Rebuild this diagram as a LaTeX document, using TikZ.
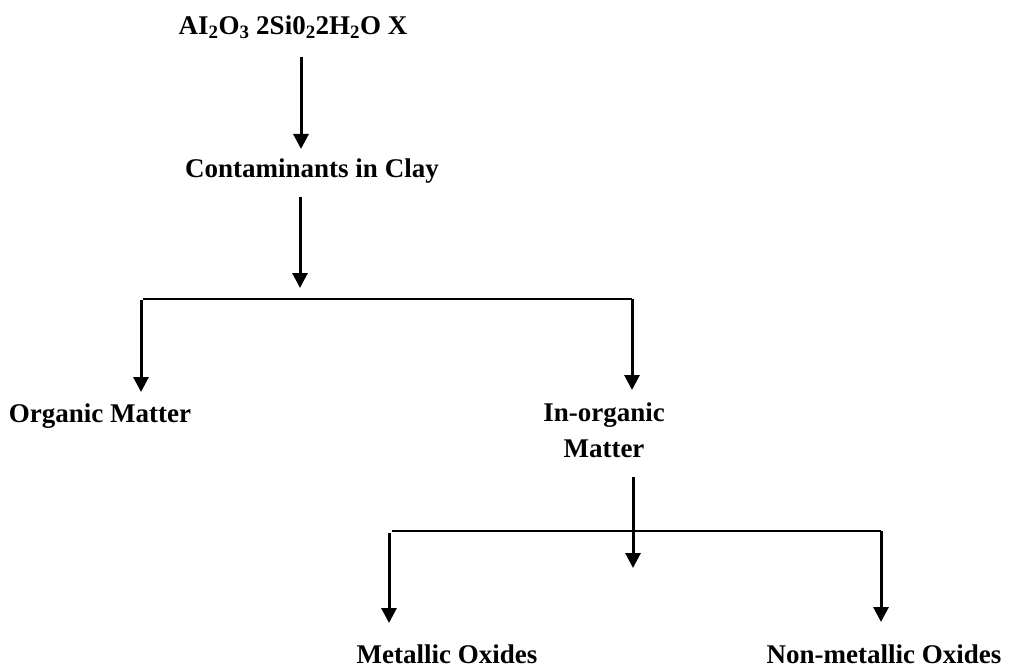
\documentclass[tikz,border=0pt]{standalone}
\usepackage{fontspec}
\setmainfont{Liberation Serif}
\usetikzlibrary{arrows.meta}
\begin{document}
\begin{tikzpicture}[x=1pt,y=-1pt,
  lbl/.style={font=\bfseries\fontsize{27}{36}\selectfont, inner sep=0pt},
  arr/.style={line width=3pt, -{Triangle[width=15pt,length=15pt]}},
  bar/.style={line width=2pt}]
\useasboundingbox (0,0) rectangle (1016,668);
% texts
\node[lbl, anchor=base] (title) at (293,35) {AI\textsubscript{2}O\textsubscript{3} 2Si0\textsubscript{2}2H\textsubscript{2}O X};
\node[lbl, anchor=base] (cont) at (312,178) {Contaminants in Clay};
\node[lbl, anchor=base] (org) at (100,422) {Organic Matter};
\node[lbl, anchor=north, align=center] (inorg) at (604,403) {In-organic\\Matter};
\node[lbl, anchor=base] (met) at (447,663) {Metallic Oxides};
\node[lbl, anchor=base] (nonmet) at (884,663) {Non-metallic Oxides};
% connector points
\coordinate (a1s) at (301,57);  \coordinate (a1e) at (301,149);
\coordinate (a2s) at (300,197); \coordinate (a2e) at (300,288);
\coordinate (h1l) at (143,299); \coordinate (h1r) at (632,299);
\coordinate (a3s) at (141,300); \coordinate (a3e) at (141,392);
\coordinate (a4e) at (632,390);
\coordinate (a5s) at (633,477); \coordinate (a5e) at (633,568);
\coordinate (h2l) at (392,531); \coordinate (h2r) at (881,531);
\coordinate (a6s) at (389,533); \coordinate (a6e) at (389,623);
\coordinate (a7e) at (881,622);
% connectors
\draw[arr] (a1s) -- (a1e);
\draw[arr] (a2s) -- (a2e);
\draw[bar] (h1l) -- (h1r);
\draw[arr] (a3s) -- (a3e);
\draw[arr] (h1r) -- (a4e);
\draw[arr] (a5s) -- (a5e);
\draw[bar] (h2l) -- (h2r);
\draw[arr] (a6s) -- (a6e);
\draw[arr] (h2r) -- (a7e);
\end{tikzpicture}
\end{document}
